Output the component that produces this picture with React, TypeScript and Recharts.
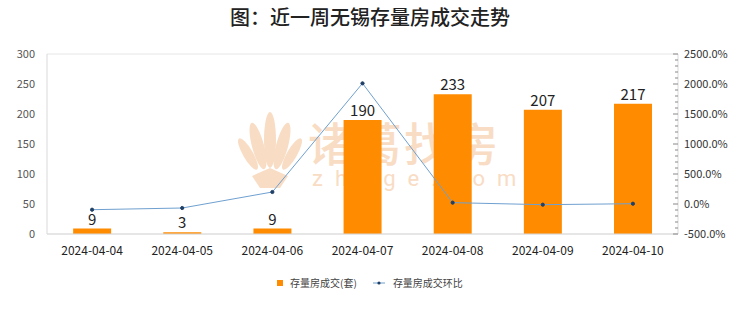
import {
  Bar,
  CartesianGrid,
  ComposedChart,
  LabelList,
  Line,
  XAxis,
  YAxis,
} from "recharts";

const dates = [
  "2024-04-04",
  "2024-04-05",
  "2024-04-06",
  "2024-04-07",
  "2024-04-08",
  "2024-04-09",
  "2024-04-10",
];
const deals = [9, 3, 9, 190, 233, 207, 217];
const momPct = [-95, -66.7, 200, 2011.1, 22.6, -11.2, 4.8];
const leftTicks = [0, 50, 100, 150, 200, 250, 300];
const rightMajor = [-500, 0, 500, 1000, 1500, 2000, 2500];

const rightTicks: number[] = [];
for (let v = -500; v <= 2500; v += 100) rightTicks.push(v);

const data = dates.map((d, i) => ({ date: d, deals: deals[i], mom: momPct[i] }));

const font = '"Noto Sans CJK SC", "Noto Sans", sans-serif';
const wmColor = "#f9dcc4";

const RightTick = (props: any) => {
  const { x, y, payload } = props;
  const major = rightMajor.includes(payload.value);
  return (
    <g>
      <line x1={x - (major ? 5 : 3)} x2={x} y1={y} y2={y} stroke="#888" strokeWidth={1} />
      {major && (
        <text x={x + 6} y={y} dy={4} fontSize={11} fill="#333" fontFamily={font}>
          {payload.value.toFixed(1) + "%"}
        </text>
      )}
    </g>
  );
};

// faint brand watermark behind the plot
const Watermark = () => (
  <div style={{ position: "absolute", left: 0, top: 0, width: 740, height: 312 }}>
    <svg width={740} height={312} style={{ position: "absolute", left: 0, top: 0 }}>
      <g fill={wmColor}>
        <ellipse cx={270} cy={140} rx={6} ry={28} />
        <ellipse cx={258} cy={146} rx={6} ry={24} transform="rotate(-15 258 146)" />
        <ellipse cx={282} cy={146} rx={6} ry={24} transform="rotate(15 282 146)" />
        <ellipse cx={248} cy={154} rx={5} ry={18} transform="rotate(-30 248 154)" />
        <ellipse cx={292} cy={154} rx={5} ry={18} transform="rotate(30 292 154)" />
        <path d="M252 176 L270 168 L288 176 L280 188 L260 188 Z" />
      </g>
    </svg>
    <div
      style={{
        position: "absolute",
        left: 308,
        top: 116,
        fontSize: 46,
        lineHeight: "50px",
        color: wmColor,
        letterSpacing: 2,
        fontWeight: 500,
      }}
    >
      诸葛找房
    </div>
    <div
      style={{
        position: "absolute",
        left: 312,
        top: 166,
        fontSize: 22,
        lineHeight: "26px",
        color: wmColor,
        letterSpacing: 12,
        fontFamily: "Roboto, sans-serif",
      }}
    >
      zhuge.com
    </div>
  </div>
);

export default function App() {
  return (
    <div
      style={{
        position: "absolute",
        left: 0,
        top: 0,
        width: 740,
        height: 312,
        background: "#fff",
        fontFamily: font,
      }}
    >
      <Watermark />
      <div
        style={{
          position: "absolute",
          top: 2,
          width: 740,
          textAlign: "center",
          fontSize: 20,
          fontWeight: 500,
          color: "#222",
        }}
      >
        图：近一周无锡存量房成交走势
      </div>
      <ComposedChart
        width={740}
        height={312}
        data={data}
        margin={{ top: 54, right: 0, left: 0, bottom: 53 }}
        barCategoryGap="29%"
      >
        <CartesianGrid vertical={false} stroke="#e6e6e6" />
        <XAxis
          dataKey="date"
          height={25}
          tickLine={false}
          axisLine={{ stroke: "#d9d9d9" }}
          tick={{ fontSize: 12, fill: "#222", fontFamily: font }}
          tickMargin={6}
        />
        <YAxis
          yAxisId="left"
          width={47}
          domain={[0, 300]}
          ticks={leftTicks}
          interval={0}
          tickLine={false}
          axisLine={{ stroke: "#d9d9d9" }}
          tick={{ fontSize: 11, fill: "#555", fontFamily: font }}
          tickMargin={6}
        />
        <YAxis
          yAxisId="right"
          orientation="right"
          width={62}
          domain={[-500, 2500]}
          ticks={rightTicks}
          interval={0}
          tickLine={false}
          tickSize={0}
          tickMargin={0}
          axisLine={{ stroke: "#d9d9d9" }}
          tick={<RightTick />}
        />
        <Bar yAxisId="left" dataKey="deals" fill="#FF8C00" isAnimationActive={false}>
          <LabelList
            dataKey="deals"
            position="top"
            offset={4}
            style={{ fontSize: 15, fill: "#222", fontFamily: font }}
          />
        </Bar>
        <Line
          yAxisId="right"
          dataKey="mom"
          type="linear"
          stroke="#6fa0d0"
          strokeWidth={1}
          dot={{ r: 1.6, fill: "#1f3f66", stroke: "#1f3f66" }}
          isAnimationActive={false}
        />
      </ComposedChart>
      <div
        style={{
          position: "absolute",
          top: 275,
          left: 0,
          width: 740,
          display: "flex",
          justifyContent: "center",
          alignItems: "center",
          fontSize: 10,
          color: "#444",
        }}
      >
        <span style={{ display: "inline-block", width: 6, height: 6, background: "#FF8C00", marginRight: 7 }} />
        <span style={{ marginRight: 14 }}>存量房成交(套)</span>
        <svg width={16} height={8} style={{ marginRight: 6 }}>
          <line x1={2} x2={14} y1={4} y2={4} stroke="#6fa0d0" strokeWidth={1} />
          <circle cx={8} cy={4} r={1.6} fill="#1f3f66" />
        </svg>
        <span>存量房成交环比</span>
      </div>
    </div>
  );
}
